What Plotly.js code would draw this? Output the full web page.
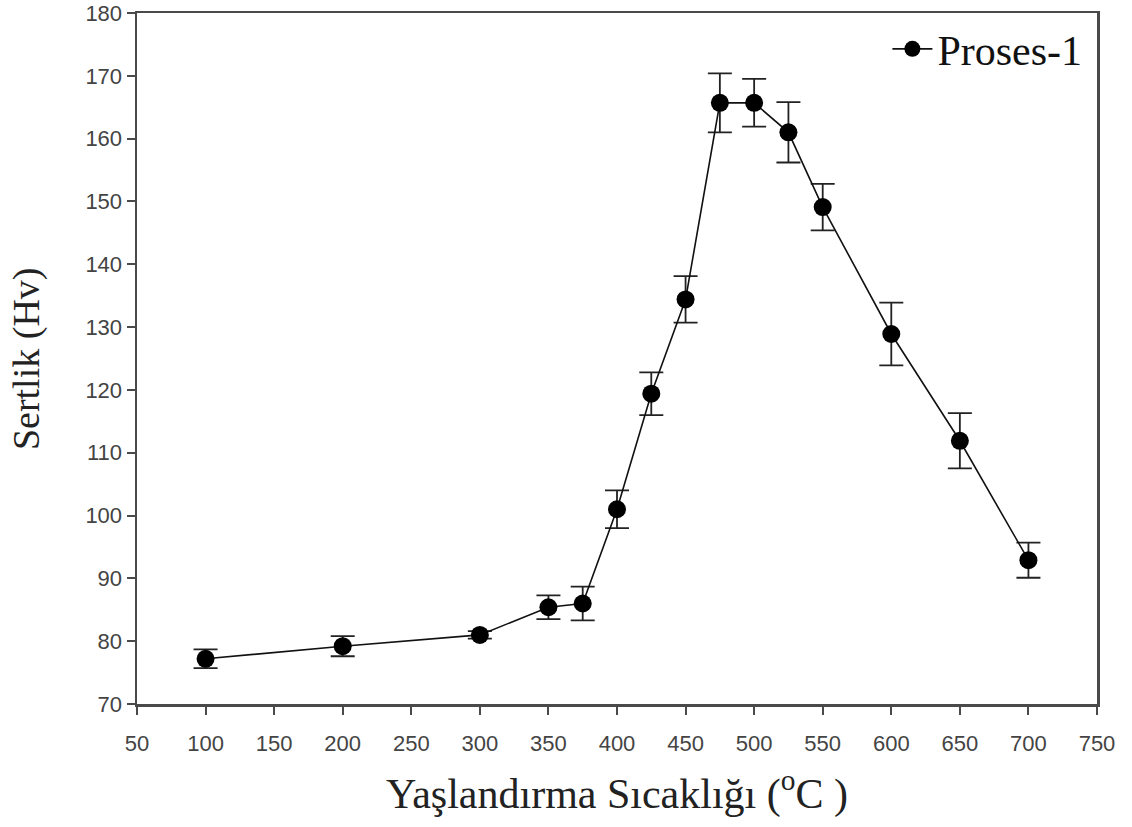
<!DOCTYPE html>
<html>
<head>
<meta charset="utf-8">
<script src="https://cdn.plot.ly/plotly-3.0.1.min.js"></script>
<style>html,body{margin:0;padding:0;background:#fff;}#chart{width:1132px;height:827px;}</style>
</head>
<body>
<div id="chart"></div>
<script>
const temperatures = [100, 200, 300, 350, 375, 400, 425, 450, 475, 500, 525, 550, 600, 650, 700];
const hardness = [77.2, 79.2, 81.0, 85.4, 86.0, 101.0, 119.4, 134.4, 165.7, 165.7, 161.0, 149.1, 128.9, 111.9, 92.9];
const hardnessErr = [1.5, 1.6, 0.6, 1.9, 2.7, 3.0, 3.4, 3.7, 4.7, 3.8, 4.8, 3.7, 5.0, 4.4, 2.8];
const xTicks = [50, 100, 150, 200, 250, 300, 350, 400, 450, 500, 550, 600, 650, 700, 750];
const yTicks = [70, 80, 90, 100, 110, 120, 130, 140, 150, 160, 170, 180];
const seriesName = 'Proses-1';

const trace = {
  x: temperatures,
  y: hardness,
  type: 'scatter',
  mode: 'lines+markers',
  name: seriesName,
  line: {color: '#111', width: 1.6},
  marker: {color: '#000', size: 18, symbol: 'circle'},
  error_y: {type: 'data', array: hardnessErr, visible: true, color: '#222', thickness: 1.8, width: 12}
};

const axisCommon = {
  showgrid: false,
  zeroline: false,
  showline: true,
  linecolor: '#4a4a4a',
  linewidth: 2.5,
  mirror: true,
  ticks: 'outside',
  ticklen: 8,
  tickwidth: 2,
  tickcolor: '#4a4a4a',
  tickfont: {family: 'Liberation Sans, Arial, sans-serif', size: 22, color: '#444'}
};

const layout = {
  width: 1132,
  height: 827,
  margin: {l: 137, r: 35, t: 13, b: 123},
  paper_bgcolor: '#fff',
  plot_bgcolor: '#fff',
  showlegend: true,
  legend: {
    x: 0.99, y: 0.997, xanchor: 'right', yanchor: 'top',
    bgcolor: 'rgba(0,0,0,0)',
    font: {family: 'Liberation Serif, Times New Roman, serif', size: 42, color: '#111'},
    itemwidth: 40
  },
  xaxis: Object.assign({}, axisCommon, {
    range: [50, 750],
    tickvals: xTicks,
    ticktext: xTicks.map(String),
    ticklabelstandoff: 10,
    title: {text: 'Yaşlandırma Sıcaklığı (<sup>o</sup>C )', font: {family: 'Liberation Serif, Times New Roman, serif', size: 42, color: '#222'}, standoff: 24}
  }),
  yaxis: Object.assign({}, axisCommon, {
    range: [70, 180],
    tickvals: yTicks,
    ticktext: yTicks.map(String)
  }),
  annotations: [{
    text: 'Sertlik (Hv)',
    textangle: -90,
    xref: 'paper', yref: 'paper',
    x: -0.115, y: 0.5,
    xanchor: 'center', yanchor: 'middle',
    showarrow: false,
    font: {family: 'Liberation Serif, Times New Roman, serif', size: 38, color: '#222'}
  }]
};

Plotly.newPlot('chart', [trace], layout, {displayModeBar: false, staticPlot: true});
</script>
</body>
</html>
